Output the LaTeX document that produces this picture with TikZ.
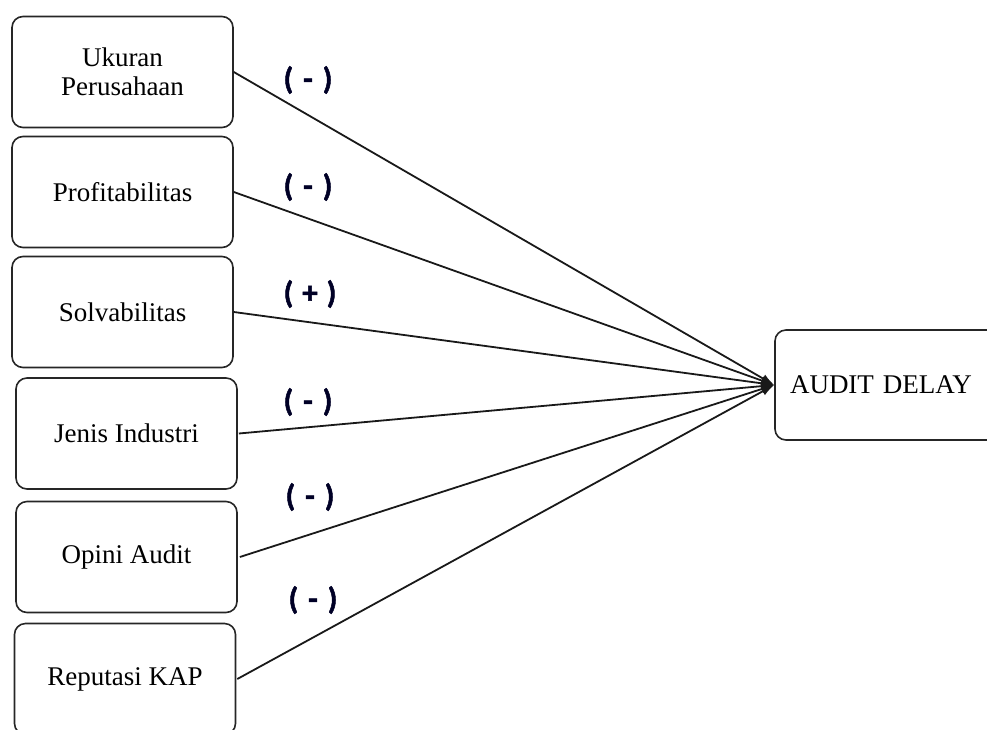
\documentclass[tikz,border=0pt]{standalone}
\usepackage{fontspec}
\setmainfont{Liberation Serif}
\newfontfamily\labfont{Carlito}[BoldFeatures={FakeBold=1.6}]
\usetikzlibrary{arrows.meta}
\begin{document}
\begin{tikzpicture}[x=1pt,y=-1pt,
  varbox/.style={draw=black!85,line width=1.6pt,rounded corners=11pt,minimum width=221pt,minimum height=111pt,inner sep=0pt,align=center,font=\fontsize{27}{29}\selectfont},
  sign/.style={font=\labfont\bfseries\fontsize{31}{32}\selectfont,text=black!85!blue,inner sep=0pt},
  link/.style={line width=1.8pt,draw=black!90,-{Latex[length=13pt,width=9pt]}}]
\useasboundingbox (0,0) rectangle (987,729);
\clip (0,0) rectangle (987,729);
\node[varbox] (b1) at (122.5,72) {Ukuran\\Perusahaan};
\node[varbox] (b2) at (122.5,192) {Profitabilitas};
\node[varbox] (b3) at (122.5,312) {Solvabilitas};
\node[varbox] (b4) at (126.5,433.5) {Jenis Industri};
\node[varbox] (b5) at (126.5,557) {Opini Audit};
\node[varbox] (b6) at (125,679) {Reputasi KAP};
\node[varbox,minimum width=240pt,minimum height=110pt,text width=210pt,inner xsep=15pt,align=left] (ad) at (895,385) {AUDIT DELAY};
\draw[link] (b1.east) -- (ad.west);
\draw[link] (b2.east) -- (ad.west);
\draw[link] (b3.east) -- (ad.west);
\draw[link] ([xshift=1pt]b4.east) -- (ad.west);
\draw[link] ([xshift=2pt]b5.east) -- (ad.west);
\draw[link] ([xshift=1pt]b6.east) -- (ad.west);
\node[sign] (s1) at (308,80) {(\hspace{10pt}-\hspace{10pt})};
\node[sign] (s2) at (308,187) {(\hspace{10pt}-\hspace{10pt})};
\node[sign] (s3) at (310,294) {(\hspace{9pt}+\hspace{9pt})};
\node[sign] (s4) at (308,402) {(\hspace{10pt}-\hspace{10pt})};
\node[sign] (s5) at (310,497) {(\hspace{10pt}-\hspace{10pt})};
\node[sign] (s6) at (313,600) {(\hspace{10pt}-\hspace{10pt})};
\end{tikzpicture}
\end{document}
